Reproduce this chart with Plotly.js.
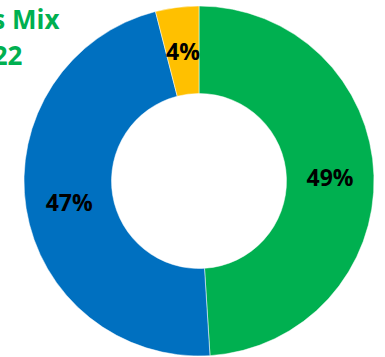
<!DOCTYPE html>
<html>
<head>
<meta charset="utf-8">
<script src="https://cdn.plot.ly/plotly-3.0.1.min.js"></script>
<style>html,body{margin:0;padding:0;background:#fff;}#chart{width:385px;height:357px;}</style>
</head>
<body>
<div id="chart"></div>
<script>
var categories = ["Green", "Blue", "Yellow"];
var values = [49, 47, 4];
var colors = ["#00B050", "#0070C0", "#FFC000"];
var titleLine1 = "Sales Mix";
var titleLine2 = "2022";

var W = 385, H = 357;
var FONT = "'Open Sans', 'Liberation Sans', sans-serif";
var holeFrac = 0.5;
var dom = {x: [24 / W, 374 / W], y: [1 / H, 351 / H]};

// slices whose label would be shrunk by the pie (narrow slices) get an annotation instead
var total = values.reduce(function (a, b) { return a + b; }, 0);
var textpos = values.map(function (v) { return v / total < 0.1 ? "none" : "inside"; });

var trace = {
  type: "pie",
  labels: categories,
  values: values,
  sort: false,
  direction: "clockwise",
  rotation: 0,
  hole: holeFrac,
  marker: {colors: colors, line: {color: "#ffffff", width: 0.5}},
  textinfo: "percent",
  texttemplate: "%{percent:.0%}",
  textposition: textpos,
  insidetextorientation: "horizontal",
  textfont: {family: FONT, size: 23, color: "#000000", weight: "bold"},
  showlegend: false,
  hoverinfo: "none",
  domain: dom
};

var annotations = [
  {text: titleLine1, xref: "paper", yref: "paper", x: 61 / W, y: 1 + 1 / H, xanchor: "right", yanchor: "top", showarrow: false,
   font: {family: FONT, size: 26, color: "#00B050", weight: "bold"}},
  {text: titleLine2, xref: "paper", yref: "paper", x: 25 / W, y: 1 - 35 / H, xanchor: "right", yanchor: "top", showarrow: false,
   font: {family: FONT, size: 26, color: "#00B050", weight: "bold"}}
];

// labels for narrow slices, placed at the slice's mid-angle in the middle of the ring
var cx = (dom.x[0] + dom.x[1]) / 2, cy = (dom.y[0] + dom.y[1]) / 2;
var rPx = Math.min((dom.x[1] - dom.x[0]) * W, (dom.y[1] - dom.y[0]) * H) / 2;
var rMid = rPx * (1 + holeFrac) / 2;
var cum = 0;
values.forEach(function (v, i) {
  var mid = (cum + v / 2) / total * 2 * Math.PI;
  cum += v;
  if (textpos[i] === "none") {
    annotations.push({
      text: Math.round(v / total * 100) + "%",
      xref: "paper", yref: "paper",
      x: cx + rMid * Math.sin(mid) / W,
      y: cy + rMid * Math.cos(mid) / H,
      xanchor: "center", yanchor: "middle", showarrow: false,
      font: {family: FONT, size: 23, color: "#000000", weight: "bold"}
    });
  }
});

var layout = {
  width: W, height: H,
  margin: {l: 0, r: 0, t: 0, b: 0},
  paper_bgcolor: "#ffffff",
  showlegend: false,
  annotations: annotations
};

Plotly.newPlot("chart", [trace], layout, {displayModeBar: false, staticPlot: true});
</script>
</body>
</html>
